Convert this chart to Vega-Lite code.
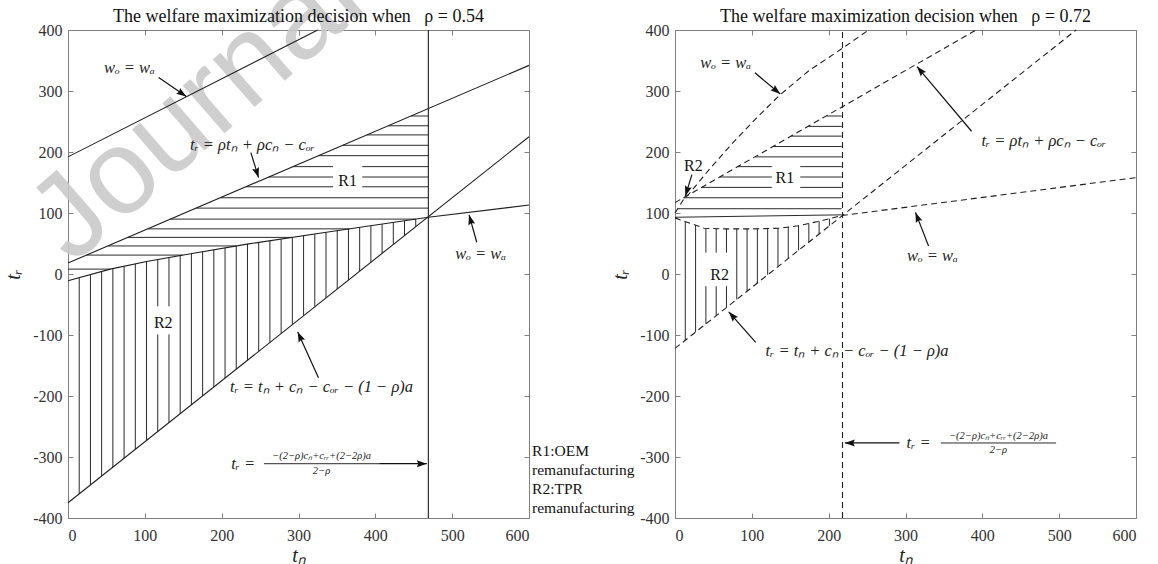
{
  "$schema": "https://vega.github.io/schema/vega-lite/v6.json",
  "padding": {"left": 3, "top": -66, "right": 0, "bottom": 0},
  "bounds": "flush",
  "spacing": 146,
  "config": {
    "view": {"stroke": null},
    "axis": {
      "grid": false,
      "labelFont": "Liberation Serif",
      "labelFontSize": 16,
      "labelColor": "#333333",
      "domainColor": "#808080",
      "tickColor": "#808080",
      "titleFont": "Liberation Serif",
      "titleFontStyle": "italic",
      "titleFontWeight": "normal",
      "titleFontSize": 20,
      "titleColor": "#222222"
    },
    "title": {"font": "Liberation Serif", "fontSize": 18, "fontWeight": "normal", "color": "#111111", "offset": -4}
  },
  "datasets": {
    "L_wm": [{"tn": 168, "tr": 270, "text": "Journal"}],
    "L_curves": [
      {"s": "up", "i": 0, "tn": 0, "tr": 192}, {"s": "up", "i": 1, "tn": 325, "tr": 400},
      {"s": "l2", "i": 0, "tn": 0, "tr": 18}, {"s": "l2", "i": 1, "tn": 600, "tr": 342},
      {"s": "l3", "i": 0, "tn": 0, "tr": -375}, {"s": "l3", "i": 1, "tn": 600, "tr": 225},
      {"s": "low", "i": 0, "tn": 0, "tr": -11}, {"s": "low", "i": 1, "tn": 55, "tr": 8},
      {"s": "low", "i": 2, "tn": 104, "tr": 21}, {"s": "low", "i": 3, "tn": 154, "tr": 32},
      {"s": "low", "i": 4, "tn": 233, "tr": 49}, {"s": "low", "i": 5, "tn": 345, "tr": 70},
      {"s": "low", "i": 6, "tn": 469, "tr": 93}, {"s": "low", "i": 7, "tn": 600, "tr": 113},
      {"s": "vert", "i": 0, "tn": 469, "tr": -400}, {"s": "vert", "i": 1, "tn": 469, "tr": 400}
    ],
    "L_hatch": [
      {"tn": 0, "tn2": 55, "tr": 8, "tr2": 8},
      {"tn": 24.1, "tn2": 149.5, "tr": 31, "tr2": 31},
      {"tn": 51.9, "tn2": 219.1, "tr": 46, "tr2": 46},
      {"tn": 77.8, "tn2": 291.7, "tr": 60, "tr2": 60},
      {"tn": 103.7, "tn2": 366.6, "tr": 74, "tr2": 74},
      {"tn": 133.3, "tn2": 452.8, "tr": 90, "tr2": 90},
      {"tn": 166.7, "tn2": 469, "tr": 108, "tr2": 108},
      {"tn": 198.1, "tn2": 469, "tr": 125, "tr2": 125},
      {"tn": 231.5, "tn2": 345, "tr": 143, "tr2": 143},
      {"tn": 383, "tn2": 469, "tr": 143, "tr2": 143},
      {"tn": 261.1, "tn2": 345, "tr": 159, "tr2": 159},
      {"tn": 383, "tn2": 469, "tr": 159, "tr2": 159},
      {"tn": 292.6, "tn2": 345, "tr": 176, "tr2": 176},
      {"tn": 383, "tn2": 469, "tr": 176, "tr2": 176},
      {"tn": 325.9, "tn2": 469, "tr": 194, "tr2": 194},
      {"tn": 357.4, "tn2": 469, "tr": 211, "tr2": 211},
      {"tn": 388.9, "tn2": 469, "tr": 228, "tr2": 228},
      {"tn": 416.7, "tn2": 469, "tr": 243, "tr2": 243},
      {"tn": 446.3, "tn2": 469, "tr": 259, "tr2": 259},
      {"tn": 14.6, "tn2": 14.6, "tr": -360.4, "tr2": -6.0},
      {"tn": 29.2, "tn2": 29.2, "tr": -345.8, "tr2": -0.9},
      {"tn": 43.8, "tn2": 43.8, "tr": -331.2, "tr2": 4.1},
      {"tn": 58.4, "tn2": 58.4, "tr": -316.6, "tr2": 8.9},
      {"tn": 73.0, "tn2": 73.0, "tr": -302.0, "tr2": 12.8},
      {"tn": 87.6, "tn2": 87.6, "tr": -287.4, "tr2": 16.6},
      {"tn": 102.2, "tn2": 102.2, "tr": -272.8, "tr2": 20.5},
      {"tn": 116.8, "tn2": 116.8, "tr": -258.2, "tr2": -99},
      {"tn": 116.8, "tn2": 116.8, "tr": -53, "tr2": 23.8},
      {"tn": 131.4, "tn2": 131.4, "tr": -243.6, "tr2": -99},
      {"tn": 131.4, "tn2": 131.4, "tr": -53, "tr2": 27.0},
      {"tn": 146.0, "tn2": 146.0, "tr": -229.0, "tr2": 30.2},
      {"tn": 160.6, "tn2": 160.6, "tr": -214.4, "tr2": 33.4},
      {"tn": 175.2, "tn2": 175.2, "tr": -199.8, "tr2": 36.6},
      {"tn": 189.8, "tn2": 189.8, "tr": -185.2, "tr2": 39.7},
      {"tn": 204.4, "tn2": 204.4, "tr": -170.6, "tr2": 42.8},
      {"tn": 219.0, "tn2": 219.0, "tr": -156.0, "tr2": 46.0},
      {"tn": 233.6, "tn2": 233.6, "tr": -141.4, "tr2": 49.1},
      {"tn": 248.2, "tn2": 248.2, "tr": -126.8, "tr2": 51.9},
      {"tn": 262.8, "tn2": 262.8, "tr": -112.2, "tr2": 54.6},
      {"tn": 277.4, "tn2": 277.4, "tr": -97.6, "tr2": 57.3},
      {"tn": 292.0, "tn2": 292.0, "tr": -83.0, "tr2": 60.1},
      {"tn": 306.6, "tn2": 306.6, "tr": -68.4, "tr2": 62.8},
      {"tn": 321.2, "tn2": 321.2, "tr": -53.8, "tr2": 65.5},
      {"tn": 335.8, "tn2": 335.8, "tr": -39.2, "tr2": 68.3},
      {"tn": 350.4, "tn2": 350.4, "tr": -24.6, "tr2": 71.0},
      {"tn": 365.0, "tn2": 365.0, "tr": -10.0, "tr2": 73.7},
      {"tn": 379.6, "tn2": 379.6, "tr": 4.6, "tr2": 76.4},
      {"tn": 394.2, "tn2": 394.2, "tr": 19.2, "tr2": 79.1},
      {"tn": 408.8, "tn2": 408.8, "tr": 33.8, "tr2": 81.8},
      {"tn": 423.4, "tn2": 423.4, "tr": 48.4, "tr2": 84.5},
      {"tn": 438.0, "tn2": 438.0, "tr": 63.0, "tr2": 87.3},
      {"tn": 452.6, "tn2": 452.6, "tr": 77.6, "tr2": 90.0},
      {"tn": 255, "tn2": 405, "tr": -311, "tr2": -311}
    ],
    "L_arrows": [
      {"tn": 118, "tr": 322, "tn2": 154, "tr2": 291},
      {"tn": 238, "tr": 199, "tn2": 248, "tr2": 158},
      {"tn": 532, "tr": 52, "tn2": 522, "tr2": 97},
      {"tn": 326, "tr": -170, "tn2": 299, "tr2": -95},
      {"tn": 405, "tr": -311, "tn2": 467, "tr2": -311}
    ],
    "L_math": [
      {"tn": 80, "tr": 337, "text": "wₒ = wₐ"},
      {"tn": 240, "tr": 212, "text": "tᵣ = ρtₙ + ρcₙ − cₒᵣ"},
      {"tn": 537, "tr": 33, "text": "wₒ = wₐ"},
      {"tn": 330, "tr": -185, "text": "tᵣ = tₙ + cₙ − cₒᵣ − (1 − ρ)a"},
      {"tn": 228, "tr": -311, "text": "tᵣ ="}
    ],
    "L_plain": [
      {"tn": 364, "tr": 152, "text": "R1"},
      {"tn": 124, "tr": -80, "text": "R2"}
    ],
    "L_frac": [
      {"tn": 330, "tr": -299, "text": "−(2−ρ)cₙ+cᵣᵣ+(2−2ρ)a"},
      {"tn": 330, "tr": -323, "text": "2−ρ"}
    ],
    "L_legend": [{"tn": 604, "tr": -279, "text": "R1:OEM\nremanufacturing\nR2:TPR\nremanufacturing"}],
    "R_curves": [
      {"s": "up", "i": 0, "tn": 0, "tr": 100}, {"s": "up", "i": 1, "tn": 6, "tr": 112},
      {"s": "up", "i": 2, "tn": 12, "tr": 124}, {"s": "up", "i": 3, "tn": 18, "tr": 131},
      {"s": "up", "i": 4, "tn": 45, "tr": 172}, {"s": "up", "i": 5, "tn": 76, "tr": 216},
      {"s": "up", "i": 6, "tn": 107, "tr": 257}, {"s": "up", "i": 7, "tn": 136, "tr": 293},
      {"s": "up", "i": 8, "tn": 175, "tr": 334}, {"s": "up", "i": 9, "tn": 218, "tr": 370},
      {"s": "up", "i": 10, "tn": 252, "tr": 400},
      {"s": "l2", "i": 0, "tn": 0, "tr": 117}, {"s": "l2", "i": 1, "tn": 392, "tr": 400},
      {"s": "l3", "i": 0, "tn": 0, "tr": -122}, {"s": "l3", "i": 1, "tn": 522, "tr": 400},
      {"s": "low", "i": 0, "tn": 0, "tr": 92}, {"s": "low", "i": 1, "tn": 13, "tr": 86},
      {"s": "low", "i": 2, "tn": 27, "tr": 80}, {"s": "low", "i": 3, "tn": 38, "tr": 75},
      {"s": "low", "i": 4, "tn": 60, "tr": 74}, {"s": "low", "i": 5, "tn": 100, "tr": 74},
      {"s": "low", "i": 6, "tn": 135, "tr": 75}, {"s": "low", "i": 7, "tn": 160, "tr": 79},
      {"s": "low", "i": 8, "tn": 186, "tr": 86}, {"s": "low", "i": 9, "tn": 218, "tr": 96},
      {"s": "low", "i": 10, "tn": 600, "tr": 158},
      {"s": "vert", "i": 0, "tn": 218, "tr": -400}, {"s": "vert", "i": 1, "tn": 218, "tr": 400}
    ],
    "R_hatch": [
      {"tn": 197.2, "tn2": 217, "tr": 259, "tr2": 259},
      {"tn": 173.6, "tn2": 217, "tr": 242, "tr2": 242},
      {"tn": 151.4, "tn2": 217, "tr": 226, "tr2": 226},
      {"tn": 127.8, "tn2": 217, "tr": 209, "tr2": 209},
      {"tn": 104.2, "tn2": 217, "tr": 192, "tr2": 192},
      {"tn": 81.9, "tn2": 126, "tr": 176, "tr2": 176},
      {"tn": 163, "tn2": 217, "tr": 176, "tr2": 176},
      {"tn": 58.3, "tn2": 126, "tr": 159, "tr2": 159},
      {"tn": 163, "tn2": 217, "tr": 159, "tr2": 159},
      {"tn": 34.7, "tn2": 126, "tr": 142, "tr2": 142},
      {"tn": 163, "tn2": 217, "tr": 142, "tr2": 142},
      {"tn": 11.1, "tn2": 217, "tr": 125, "tr2": 125},
      {"tn": 3.5, "tn2": 217, "tr": 107, "tr2": 107},
      {"tn": 0, "tn2": 217, "tr": 93, "tr2": 97},
      {"tn": 13.4, "tn2": 13.4, "tr": -108.6, "tr2": 85.8},
      {"tn": 26.8, "tn2": 26.8, "tr": -95.2, "tr2": 80.1},
      {"tn": 40.2, "tn2": 40.2, "tr": -81.8, "tr2": -20},
      {"tn": 40.2, "tn2": 40.2, "tr": 35, "tr2": 74.9},
      {"tn": 53.6, "tn2": 53.6, "tr": -68.4, "tr2": -20},
      {"tn": 53.6, "tn2": 53.6, "tr": 35, "tr2": 74.3},
      {"tn": 67.0, "tn2": 67.0, "tr": -55.0, "tr2": -20},
      {"tn": 67.0, "tn2": 67.0, "tr": 35, "tr2": 74.0},
      {"tn": 80.4, "tn2": 80.4, "tr": -41.6, "tr2": 74.0},
      {"tn": 93.8, "tn2": 93.8, "tr": -28.2, "tr2": 74.0},
      {"tn": 107.2, "tn2": 107.2, "tr": -14.8, "tr2": 74.2},
      {"tn": 120.6, "tn2": 120.6, "tr": -1.4, "tr2": 74.6},
      {"tn": 134.0, "tn2": 134.0, "tr": 12.0, "tr2": 75.0},
      {"tn": 147.4, "tn2": 147.4, "tr": 25.4, "tr2": 77.0},
      {"tn": 160.8, "tn2": 160.8, "tr": 38.8, "tr2": 79.2},
      {"tn": 174.2, "tn2": 174.2, "tr": 52.2, "tr2": 82.8},
      {"tn": 187.6, "tn2": 187.6, "tr": 65.6, "tr2": 86.5},
      {"tn": 201.0, "tn2": 201.0, "tr": 79.0, "tr2": 90.7},
      {"tn": 346, "tn2": 496, "tr": -277, "tr2": -277}
    ],
    "R_arrows": [
      {"tn": 104, "tr": 330, "tn2": 137, "tr2": 295},
      {"tn": 386, "tr": 234, "tn2": 315, "tr2": 340},
      {"tn": 22, "tr": 163, "tn2": 13.5, "tr2": 128},
      {"tn": 330, "tr": 46, "tn2": 313, "tr2": 101},
      {"tn": 105, "tr": -112, "tn2": 70, "tr2": -62},
      {"tn": 292, "tr": -277, "tn2": 221, "tr2": -277}
    ],
    "R_math": [
      {"tn": 66, "tr": 346, "text": "wₒ = wₐ"},
      {"tn": 480, "tr": 218, "text": "tᵣ = ρtₙ + ρcₙ − cₒᵣ"},
      {"tn": 335, "tr": 30, "text": "wₒ = wₐ"},
      {"tn": 237, "tr": -127, "text": "tᵣ = tₙ + cₙ − cₒᵣ − (1 − ρ)a"},
      {"tn": 317, "tr": -277, "text": "tᵣ ="}
    ],
    "R_plain": [
      {"tn": 143, "tr": 157, "text": "R1"},
      {"tn": 58, "tr": -2, "text": "R2"},
      {"tn": 24, "tr": 177, "text": "R2"}
    ],
    "R_frac": [
      {"tn": 421, "tr": -265, "text": "−(2−ρ)cₙ+cᵣᵣ+(2−2ρ)a"},
      {"tn": 421, "tr": -289, "text": "2−ρ"}
    ]
  },
  "hconcat": [
    {
      "width": 461,
      "height": 488,
      "title": {"text": "The welfare maximization decision when\u00a0\u00a0\u00a0ρ = 0.54", "offset": -91},
      "resolve": {"axis": {"x": "independent", "y": "independent"}},
      "layer": [
        {
          "data": {"name": "L_wm"},
          "mark": {"type": "text", "font": "Liberation Sans", "fontSize": 120, "angle": 319, "color": "#cacaca", "opacity": 0.9, "align": "center", "baseline": "middle"},
          "encoding": {
            "x": {"field": "tn", "type": "quantitative", "scale": {"domain": [0, 600], "nice": false}, "axis": null},
            "y": {"field": "tr", "type": "quantitative", "scale": {"domain": [-400, 400], "nice": false}, "axis": null},
            "text": {"field": "text"}
          }
        },
        {
          "data": {"name": "L_hatch"},
          "mark": {"type": "rule", "color": "#2a2a2a", "strokeWidth": 1},
          "encoding": {
            "x": {"field": "tn", "type": "quantitative", "scale": {"domain": [0, 600], "nice": false},
                  "axis": {"orient": "top", "values": [0, 100, 200, 300, 400, 500, 600], "labels": false, "title": null, "tickSize": -5}},
            "x2": {"field": "tn2"},
            "y": {"field": "tr", "type": "quantitative", "scale": {"domain": [-400, 400], "nice": false},
                  "axis": {"orient": "right", "values": [-400, -300, -200, -100, 0, 100, 200, 300, 400], "labels": false, "title": null, "tickSize": -5}},
            "y2": {"field": "tr2"}
          }
        },
        {
          "data": {"name": "L_curves"},
          "mark": {"type": "line", "color": "#1e1e1e", "strokeWidth": 1.1},
          "encoding": {
            "x": {"field": "tn", "type": "quantitative", "scale": {"domain": [0, 600], "nice": false},
                  "axis": {"orient": "bottom", "values": [0, 100, 200, 300, 400, 500, 600], "tickSize": -5, "labelPadding": 14, "title": "tₙ", "titlePadding": 2}},
            "y": {"field": "tr", "type": "quantitative", "scale": {"domain": [-400, 400], "nice": false},
                  "axis": {"orient": "left", "values": [-400, -300, -200, -100, 0, 100, 200, 300, 400], "tickSize": -5, "labelPadding": 11, "labelExpr": "'' + datum.value", "title": "tᵣ", "titlePadding": 9}},
            "detail": {"field": "s"},
            "order": {"field": "i", "type": "quantitative"}
          }
        },
        {
          "data": {"name": "L_arrows"},
          "mark": {"type": "rule", "color": "#111111", "strokeWidth": 1.2},
          "encoding": {
            "x": {"field": "tn", "type": "quantitative", "scale": {"domain": [0, 600], "nice": false}, "axis": null},
            "x2": {"field": "tn2"},
            "y": {"field": "tr", "type": "quantitative", "scale": {"domain": [-400, 400], "nice": false}, "axis": null},
            "y2": {"field": "tr2"}
          }
        },
        {
          "data": {"name": "L_arrows"},
          "transform": [{"calculate": "atan2((datum.tn2 - datum.tn) * 0.7683, (datum.tr2 - datum.tr) * 0.61) * 180 / PI", "as": "ang"}],
          "mark": {"type": "point", "shape": "M0,0L0.7,2L0,1.7L-0.7,2Z", "filled": true, "size": 100, "color": "#111111", "opacity": 1, "strokeWidth": 0},
          "encoding": {
            "x": {"field": "tn2", "type": "quantitative", "scale": {"domain": [0, 600], "nice": false}, "axis": null},
            "y": {"field": "tr2", "type": "quantitative", "scale": {"domain": [-400, 400], "nice": false}, "axis": null},
            "angle": {"field": "ang", "type": "quantitative", "scale": null}
          }
        },
        {
          "data": {"name": "L_math"},
          "mark": {"type": "text", "font": "Liberation Serif", "fontStyle": "italic", "fontSize": 16.5, "color": "#222222", "align": "center", "baseline": "middle"},
          "encoding": {
            "x": {"field": "tn", "type": "quantitative", "scale": {"domain": [0, 600], "nice": false}, "axis": null},
            "y": {"field": "tr", "type": "quantitative", "scale": {"domain": [-400, 400], "nice": false}, "axis": null},
            "text": {"field": "text"}
          }
        },
        {
          "data": {"name": "L_plain"},
          "mark": {"type": "text", "font": "Liberation Serif", "fontSize": 16, "color": "#111111", "align": "center", "baseline": "middle"},
          "encoding": {
            "x": {"field": "tn", "type": "quantitative", "scale": {"domain": [0, 600], "nice": false}, "axis": null},
            "y": {"field": "tr", "type": "quantitative", "scale": {"domain": [-400, 400], "nice": false}, "axis": null},
            "text": {"field": "text"}
          }
        },
        {
          "data": {"name": "L_frac"},
          "mark": {"type": "text", "font": "Liberation Serif", "fontStyle": "italic", "fontSize": 10.5, "color": "#222222", "align": "center", "baseline": "middle"},
          "encoding": {
            "x": {"field": "tn", "type": "quantitative", "scale": {"domain": [0, 600], "nice": false}, "axis": null},
            "y": {"field": "tr", "type": "quantitative", "scale": {"domain": [-400, 400], "nice": false}, "axis": null},
            "text": {"field": "text"}
          }
        },
        {
          "data": {"name": "L_legend"},
          "mark": {"type": "text", "font": "Liberation Serif", "fontSize": 15.5, "color": "#111111", "align": "left", "baseline": "top", "lineBreak": "\n", "lineHeight": 19},
          "encoding": {
            "x": {"field": "tn", "type": "quantitative", "scale": {"domain": [0, 600], "nice": false}, "axis": null},
            "y": {"field": "tr", "type": "quantitative", "scale": {"domain": [-400, 400], "nice": false}, "axis": null},
            "text": {"field": "text"}
          }
        }
      ]
    },
    {
      "width": 461,
      "height": 488,
      "title": {"text": "The welfare maximization decision when\u00a0\u00a0\u00a0ρ = 0.72", "offset": -4},
      "resolve": {"axis": {"x": "independent", "y": "independent"}},
      "layer": [
        {
          "data": {"name": "R_hatch"},
          "mark": {"type": "rule", "color": "#2a2a2a", "strokeWidth": 1},
          "encoding": {
            "x": {"field": "tn", "type": "quantitative", "scale": {"domain": [0, 600], "nice": false},
                  "axis": {"orient": "top", "values": [0, 100, 200, 300, 400, 500, 600], "labels": false, "title": null, "tickSize": -5}},
            "x2": {"field": "tn2"},
            "y": {"field": "tr", "type": "quantitative", "scale": {"domain": [-400, 400], "nice": false},
                  "axis": {"orient": "right", "values": [-400, -300, -200, -100, 0, 100, 200, 300, 400], "labels": false, "title": null, "tickSize": -5}},
            "y2": {"field": "tr2"}
          }
        },
        {
          "data": {"name": "R_curves"},
          "mark": {"type": "line", "color": "#1e1e1e", "strokeWidth": 1.1, "strokeDash": [6, 4]},
          "encoding": {
            "x": {"field": "tn", "type": "quantitative", "scale": {"domain": [0, 600], "nice": false},
                  "axis": {"orient": "bottom", "values": [0, 100, 200, 300, 400, 500, 600], "tickSize": -5, "labelPadding": 14, "title": "tₙ", "titlePadding": 2}},
            "y": {"field": "tr", "type": "quantitative", "scale": {"domain": [-400, 400], "nice": false},
                  "axis": {"orient": "left", "values": [-400, -300, -200, -100, 0, 100, 200, 300, 400], "tickSize": -5, "labelPadding": 11, "labelExpr": "'' + datum.value", "title": "tᵣ", "titlePadding": 9}},
            "detail": {"field": "s"},
            "order": {"field": "i", "type": "quantitative"}
          }
        },
        {
          "data": {"name": "R_arrows"},
          "mark": {"type": "rule", "color": "#111111", "strokeWidth": 1.2},
          "encoding": {
            "x": {"field": "tn", "type": "quantitative", "scale": {"domain": [0, 600], "nice": false}, "axis": null},
            "x2": {"field": "tn2"},
            "y": {"field": "tr", "type": "quantitative", "scale": {"domain": [-400, 400], "nice": false}, "axis": null},
            "y2": {"field": "tr2"}
          }
        },
        {
          "data": {"name": "R_arrows"},
          "transform": [{"calculate": "atan2((datum.tn2 - datum.tn) * 0.7683, (datum.tr2 - datum.tr) * 0.61) * 180 / PI", "as": "ang"}],
          "mark": {"type": "point", "shape": "M0,0L0.7,2L0,1.7L-0.7,2Z", "filled": true, "size": 100, "color": "#111111", "opacity": 1, "strokeWidth": 0},
          "encoding": {
            "x": {"field": "tn2", "type": "quantitative", "scale": {"domain": [0, 600], "nice": false}, "axis": null},
            "y": {"field": "tr2", "type": "quantitative", "scale": {"domain": [-400, 400], "nice": false}, "axis": null},
            "angle": {"field": "ang", "type": "quantitative", "scale": null}
          }
        },
        {
          "data": {"name": "R_math"},
          "mark": {"type": "text", "font": "Liberation Serif", "fontStyle": "italic", "fontSize": 16.5, "color": "#222222", "align": "center", "baseline": "middle"},
          "encoding": {
            "x": {"field": "tn", "type": "quantitative", "scale": {"domain": [0, 600], "nice": false}, "axis": null},
            "y": {"field": "tr", "type": "quantitative", "scale": {"domain": [-400, 400], "nice": false}, "axis": null},
            "text": {"field": "text"}
          }
        },
        {
          "data": {"name": "R_plain"},
          "mark": {"type": "text", "font": "Liberation Serif", "fontSize": 16, "color": "#111111", "align": "center", "baseline": "middle"},
          "encoding": {
            "x": {"field": "tn", "type": "quantitative", "scale": {"domain": [0, 600], "nice": false}, "axis": null},
            "y": {"field": "tr", "type": "quantitative", "scale": {"domain": [-400, 400], "nice": false}, "axis": null},
            "text": {"field": "text"}
          }
        },
        {
          "data": {"name": "R_frac"},
          "mark": {"type": "text", "font": "Liberation Serif", "fontStyle": "italic", "fontSize": 10.5, "color": "#222222", "align": "center", "baseline": "middle"},
          "encoding": {
            "x": {"field": "tn", "type": "quantitative", "scale": {"domain": [0, 600], "nice": false}, "axis": null},
            "y": {"field": "tr", "type": "quantitative", "scale": {"domain": [-400, 400], "nice": false}, "axis": null},
            "text": {"field": "text"}
          }
        }
      ]
    }
  ]
}
